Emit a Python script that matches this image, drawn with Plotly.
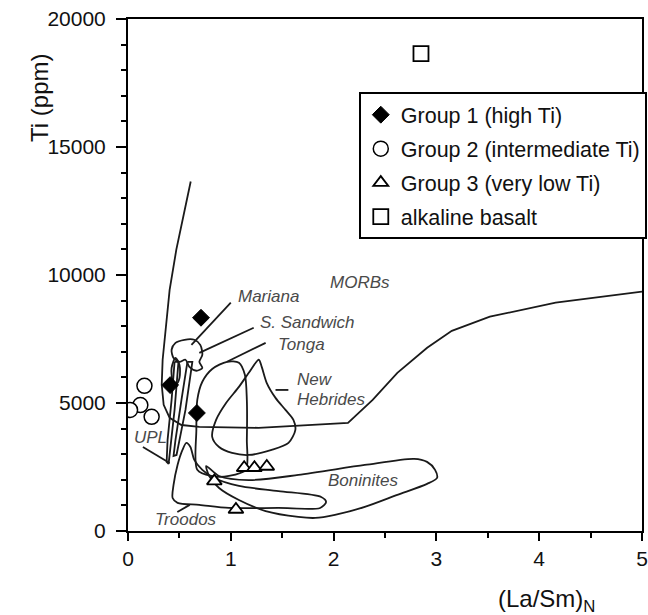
import plotly.graph_objects as go

# ---- sample data: (La/Sm)N vs Ti (ppm) ----
g1_x = [0.71, 0.41, 0.67]
g1_y = [8330, 5700, 4610]

g2_x = [0.16, 0.12, 0.02, 0.23]
g2_y = [5670, 4920, 4730, 4460]

g3_x = [0.84, 1.05, 1.13, 1.23, 1.35]
g3_y = [1950, 840, 2470, 2470, 2520]

alk_x = [2.85]
alk_y = [18650]

# ---- reference fields (outlines) ----
morb_x = [0.61, 0.54, 0.47, 0.405, 0.366, 0.337, 0.328, 0.347, 0.405, 0.52, 0.694,
          1.27, 2.14, 2.38, 2.62, 2.91, 3.15, 3.52, 4.16, 5.0]
morb_y = [13650, 12360, 10990, 9420, 7860, 6690, 5710, 4930, 4420, 4140, 4070,
          4030, 4220, 5120, 6180, 7160, 7820, 8370, 8920, 9350]

mariana_x = [0.549, 0.645, 0.703, 0.723, 0.694, 0.723, 0.665, 0.597, 0.559, 0.501,
             0.443, 0.424, 0.462, 0.549]
mariana_y = [7470, 7470, 7270, 6880, 6610, 6370, 6260, 6410, 6690, 6610,
             6760, 7080, 7350, 7470]

small_x = [0.462, 0.501, 0.501, 0.472, 0.434, 0.424, 0.462]
small_y = [6760, 6490, 5980, 5750, 5900, 6370, 6760]

upl_x = [0.453, 0.491, 0.453, 0.414, 0.395, 0.376, 0.385, 0.424, 0.453]
upl_y = [6610, 6610, 4730, 3170, 2620, 2700, 3560, 5120, 6610]

ssand_x = [0.578, 0.626, 0.559, 0.472, 0.443, 0.462, 0.52, 0.578]
ssand_y = [6610, 6610, 4730, 2970, 2930, 3560, 5120, 6610]

tonga_x = [0.674, 0.665, 0.674, 0.723, 0.819, 0.963, 1.079, 1.137, 1.156, 1.156,
           1.146, 0.983, 0.809, 0.674]
tonga_y = [2390, 3950, 5120, 5830, 6330, 6610, 6570, 6100, 5120, 3560,
           2390, 2150, 2150, 2390]

nh_x = [1.272, 1.301, 1.349, 1.435, 1.532, 1.609, 1.628, 1.561, 1.397, 1.175,
        1.012, 0.886, 0.819, 0.857, 0.954, 1.079, 1.175, 1.272]
nh_y = [6690, 6410, 5790, 5200, 4730, 4340, 3950, 3440, 3170, 2970,
        3050, 3280, 3680, 4340, 5000, 5630, 6180, 6690]

troodos_x = [0.482, 0.53, 0.568, 0.607, 0.645, 0.723, 0.838, 1.079, 1.464, 1.879,
             1.927, 1.869, 1.464, 0.983, 0.694, 0.482, 0.434, 0.443, 0.482]
troodos_y = [2580, 3170, 3440, 3280, 2780, 2390, 2070, 1760, 1560, 1330,
             1130, 900, 900, 900, 1020, 1100, 1290, 1800, 2580]

bon_x = [0.761, 0.886, 1.175, 1.657, 2.303, 2.784, 2.909, 2.987, 3.006, 2.909,
         2.62, 2.303, 2.013, 1.821, 1.657, 1.339, 1.079, 0.886, 0.79, 0.761]
bon_y = [2540, 2150, 1990, 2190, 2580, 2820, 2700, 2390, 2070, 1840,
         1410, 940, 630, 510, 550, 780, 1210, 1680, 2150, 2540]

# leader lines from labels to fields
leaders = {
    "Mariana": ([0.617, 1.0], [7270, 8920]),
    "S. Sandwich": ([0.694, 1.223], [6960, 7940]),
    "Tonga": ([0.963, 1.339], [6610, 7350]),
    "New Hebrides": ([1.435, 1.56], [5510, 5510]),
    "UPL": ([0.145, 0.405], [3280, 2660]),
    "Troodos": ([0.48, 0.6], [740, 1020]),
}

# field labels (left anchored)
lab_text = ["MORBs", "Mariana", "S. Sandwich", "Tonga", "New", "Hebrides",
            "UPL", "Boninites", "Troodos"]
lab_x = [1.95, 1.05, 1.262, 1.435, 1.628, 1.628, 0.04, 1.93, 0.24]
lab_y = [9700, 9150, 8130, 7270, 5900, 5120, 3640, 1990, 430]

FONT = "Liberation Sans, Arial, Helvetica, sans-serif"
LINE = dict(color="#1a1a1a", width=1.8)

fig = go.Figure()

fields = [
    (morb_x, morb_y, "linear"),
    (mariana_x, mariana_y, "spline"),
    (small_x, small_y, "spline"),
    (upl_x, upl_y, "linear"),
    (ssand_x, ssand_y, "linear"),
    (tonga_x, tonga_y, "spline"),
    (nh_x, nh_y, "spline"),
    (troodos_x, troodos_y, "spline"),
    (bon_x, bon_y, "spline"),
]
for fx, fy, shp in fields:
    fig.add_trace(go.Scatter(x=fx, y=fy, mode="lines",
                             line=dict(color=LINE["color"], width=LINE["width"],
                                       shape=shp, smoothing=0.8),
                             showlegend=False, hoverinfo="skip"))

for name, (lx, ly) in leaders.items():
    fig.add_trace(go.Scatter(x=lx, y=ly, mode="lines", line=LINE,
                             showlegend=False, hoverinfo="skip"))

fig.add_trace(go.Scatter(
    x=g1_x, y=g1_y, mode="markers", name="Group 1 (high Ti)", legendgroup="g1",
    marker=dict(symbol="diamond", size=13, color="black",
                line=dict(color="black", width=1))))
fig.add_trace(go.Scatter(
    x=g2_x, y=g2_y, mode="markers", name="Group 2 (intermediate Ti)", legendgroup="g2",
    marker=dict(symbol="circle", size=15, color="white",
                line=dict(color="black", width=1.5))))
fig.add_trace(go.Scatter(
    x=g3_x, y=g3_y, mode="markers", name="Group 3 (very low Ti)", legendgroup="g3",
    marker=dict(symbol="triangle-up", size=13, color="white",
                line=dict(color="black", width=1.8))))
fig.add_trace(go.Scatter(
    x=alk_x, y=alk_y, mode="markers", name="alkaline basalt", legendgroup="g4",
    marker=dict(symbol="square", size=15, color="white",
                line=dict(color="black", width=1.8))))

for t, x, y in zip(lab_text, lab_x, lab_y):
    fig.add_annotation(x=x, y=y, text=f"<i>{t}</i>", showarrow=False,
                       xanchor="left", yanchor="middle",
                       font=dict(family=FONT, size=17, color="#4a4a4a"))

# axis titles
fig.add_annotation(x=-0.171, y=0.846, xref="paper", yref="paper", text="Ti (ppm)",
                   showarrow=False, textangle=-90, xanchor="center", yanchor="middle",
                   font=dict(family=FONT, size=24, color="#111"))
fig.add_annotation(x=0.815, y=-0.135, xref="paper", yref="paper",
                   text="(La/Sm)<sub>N</sub>", showarrow=False,
                   xanchor="center", yanchor="middle",
                   font=dict(family=FONT, size=24, color="#111"))

fig.update_layout(
    width=648, height=615,
    margin=dict(l=128, r=6, t=19, b=84, autoexpand=False),
    paper_bgcolor="white", plot_bgcolor="white",
    font=dict(family=FONT, size=21, color="#111"),
    showlegend=True,
    legend=dict(x=0.449, y=0.857, xanchor="left", yanchor="top",
                bordercolor="black", borderwidth=2, bgcolor="white",
                font=dict(family=FONT, size=21.5, color="#111"),
                itemwidth=30, traceorder="grouped", tracegroupgap=3),
)
fig.update_xaxes(range=[0, 5], showgrid=False, zeroline=False, automargin=False,
                 showline=True, linecolor="black", linewidth=2, mirror=True,
                 ticks="outside", ticklen=8, tickwidth=2, tickcolor="black",
                 dtick=1, tickfont=dict(size=21), ticklabeloverflow="allow",
                 minor=dict(dtick=0.5, ticks="outside", ticklen=5, tickwidth=1.5,
                            tickcolor="black"))
fig.update_yaxes(range=[0, 20000], showgrid=False, zeroline=False, automargin=False,
                 showline=True, linecolor="black", linewidth=2, mirror=True,
                 ticks="outside", ticklen=10, tickwidth=2, tickcolor="black",
                 dtick=5000, tickformat="d", tickfont=dict(size=21), ticklabelstandoff=6,
                 minor=dict(dtick=1000, ticks="outside", ticklen=5, tickwidth=1.5,
                            tickcolor="black"))

fig.write_html("out.html")
